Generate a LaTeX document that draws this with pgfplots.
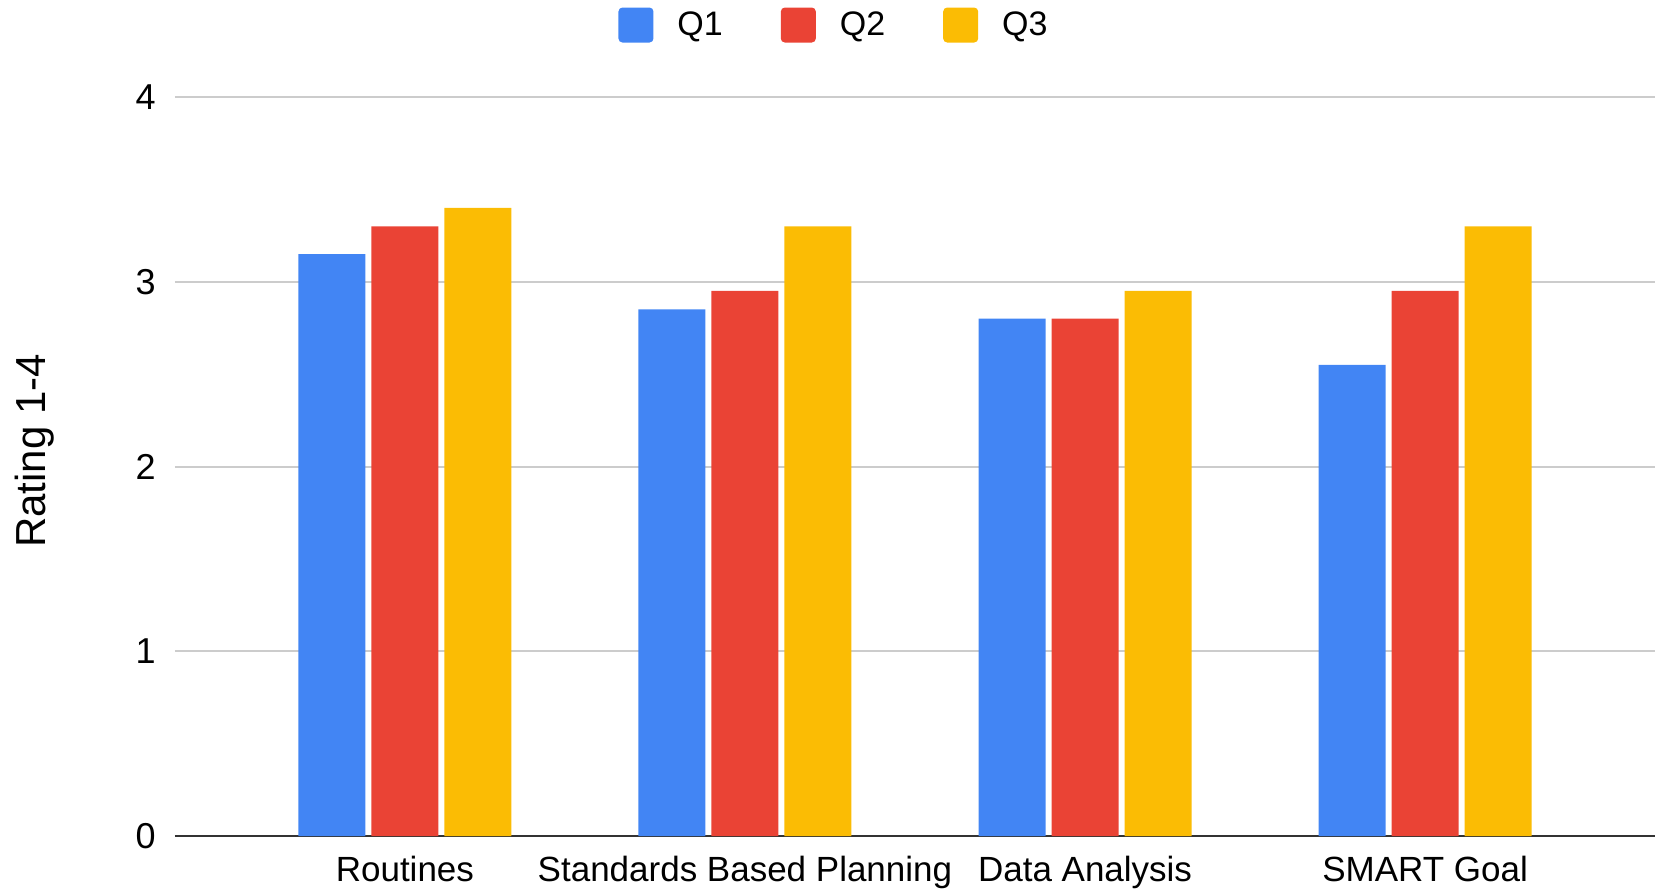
\documentclass[border=0pt]{standalone}
\usepackage{fontspec}
\setmainfont{Liberation Sans}
\usepackage{pgfplots}
\pgfplotsset{compat=1.18}

\definecolor{qone}{HTML}{4285F4}
\definecolor{qtwo}{HTML}{EA4335}
\definecolor{qthree}{HTML}{FBBC04}
\definecolor{axisgray}{HTML}{333333}
\definecolor{gridgray}{HTML}{CCCCCC}

\begin{document}
\begin{tikzpicture}[x=1pt,y=1pt]
\path[use as bounding box] (0,0) rectangle (832.5,444.5);
\begin{axis}[
    at={(87.5pt,26.5pt)}, anchor=south west,
    scale only axis, width=740pt, height=369.5pt,
    ybar=3pt, bar width=33.5pt,
    xmin=-0.676, xmax=3.676, ymin=0, ymax=4,
    xtick={0,1,2,3},
    xticklabels={Routines,Standards Based Planning,Data Analysis,SMART Goal},
    ytick={0,1,2,3,4},
    major tick length=0pt,
    axis x line*=bottom, axis y line*=left,
    x axis line style={draw=axisgray, line width=1pt, -},
    y axis line style={draw=none},
    ymajorgrids, grid style={draw=gridgray, line width=1pt},
    /pgf/number format/assume math mode=true,
    yticklabel style={font=\fontsize{18}{21}\selectfont, inner sep=0pt, xshift=-9.5pt},
    xticklabel style={font=\fontsize{17.5}{21}\selectfont, inner sep=0pt, yshift=-10pt},
    ylabel={Rating 1-4},
    ylabel style={at={(axis description cs:-0.0878,0.521)}, anchor=base, font=\fontsize{21}{25}\selectfont},
    legend columns=-1,
    legend style={at={(axis description cs:0.4446,1.0974)}, anchor=center,
        draw=none, fill=none, font=\fontsize{17}{20}\selectfont,
        nodes={inner sep=0pt}, column sep=12pt,
        /tikz/every even column/.append style={column sep=29pt}},
    legend image code/.code={\fill[#1,rounded corners=2pt] (0pt,-8.75pt) rectangle (17.5pt,8.75pt);},
]
\addplot[fill=qone, draw=none] coordinates {(0,3.15) (1,2.85) (2,2.8) (3,2.55)};
\addlegendentry{Q1}
\addplot[fill=qtwo, draw=none] coordinates {(0,3.3) (1,2.95) (2,2.8) (3,2.95)};
\addlegendentry{Q2}
\addplot[fill=qthree, draw=none] coordinates {(0,3.4) (1,3.3) (2,2.95) (3,3.3)};
\addlegendentry{Q3}
\end{axis}
\end{tikzpicture}
\end{document}
